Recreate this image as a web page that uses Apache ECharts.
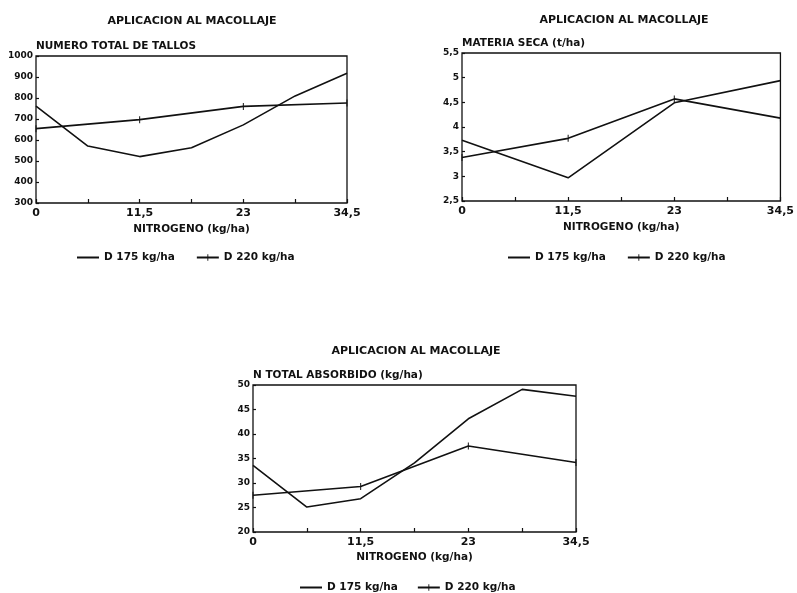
<!DOCTYPE html>
<html>
<head>
<meta charset="utf-8">
<title>Aplicacion al macollaje</title>
<script src="https://cdn.jsdelivr.net/npm/echarts@6/dist/echarts.min.js"></script>
<style>
  html, body { margin: 0; padding: 0; background: #fff; }
  #chart { width: 797px; height: 593px; }
</style>
</head>
<body>
<div id="chart"></div>
<script>
// Nitrogen levels (kg/ha): fitted curve points and applied doses
const nitrogenFine = [0, 5.75, 11.5, 17.25, 23, 28.75, 34.5];
const nitrogenDoses = [0, 11.5, 23, 34.5];
const xTickLabels = ['0', '11,5', '23', '34,5'];

const seriesNames = ['D 175 kg/ha', 'D 220 kg/ha'];

// Numero total de tallos
const tallosD175 = [761, 571, 521, 563, 672, 810, 918];
const tallosD220 = [654, 697, 760, 776];

// Materia seca (t/ha)
const materiaD175 = [3.73, 2.97, 4.49, 4.94];
const materiaD220 = [3.38, 3.77, 4.57, 4.18];

// N total absorbido (kg/ha)
const nAbsD175 = [33.6, 25.1, 26.8, 34.1, 43.1, 49.1, 47.7];
const nAbsD220 = [27.5, 29.3, 37.55, 34.2];

const chartTitle = 'APLICACION AL MACOLLAJE';
const xAxisTitle = 'NITROGENO (kg/ha)';
const yTitles = ['NUMERO TOTAL DE TALLOS', 'MATERIA SECA (t/ha)', 'N TOTAL ABSORBIDO (kg/ha)'];

const INK = '#111';
const FONT = 'DejaVu Sans';

function pairs(xs, ys) { return ys.map((y, i) => [xs[i], y]); }

// thin vertical tick; the corner specks keep the bounding box square
const tickSymbol = 'path://M0,0h0.01v0.01h-0.01z M4.3,0h1.4v10h-1.4z M9.99,9.99h0.01v0.01h-0.01z';
const blankSymbol = 'path://M0,0h0.01v0.01h-0.01z M9.99,9.99h0.01v0.01h-0.01z';

const grids = [
  { left: 36, top: 56, width: 311, height: 147 },
  { left: 462, top: 53, width: 322, height: 148 },
  { left: 253, top: 385, width: 323, height: 147 }
];
const yRanges = [
  { min: 300, max: 1000, interval: 100 },
  { min: 2.5, max: 5.5, interval: 0.5 },
  { min: 20, max: 50, interval: 5 }
];
const xNameGaps = [21, 21, 20];
const legendPos = [
  { left: 76, top: 252, gap: 21 },
  { left: 507, top: 252, gap: 21 },
  { left: 299, top: 582, gap: 19 }
];
const titlePos = [[192, 21], [624, 20], [416, 351]];

const option = {
  animation: false,
  backgroundColor: '#fff',
  grid: grids.map(g => Object.assign({
    show: true, borderColor: INK, borderWidth: 1.3, backgroundColor: 'transparent'
  }, g)),
  xAxis: grids.map((g, i) => ({
    type: 'value', gridIndex: i, min: 0, max: 34.5, interval: 11.5,
    name: xAxisTitle, nameLocation: 'middle', nameGap: xNameGaps[i],
    nameTextStyle: { fontFamily: FONT, fontWeight: 'bold', fontSize: 10.5, color: INK },
    axisLine: { show: false },
    axisTick: { show: true, inside: true, length: 4, lineStyle: { color: INK, width: 1.2 } },
    minorTick: { show: true, splitNumber: 2, length: 4, lineStyle: { color: INK, width: 1.2 } },
    splitLine: { show: false },
    axisLabel: {
      margin: 5, fontFamily: FONT, fontWeight: 'bold', fontSize: 11, color: INK,
      formatter: v => xTickLabels[Math.round(v / 11.5)]
    }
  })),
  yAxis: grids.map((g, i) => Object.assign({
    type: 'value', gridIndex: i,
    name: yTitles[i], nameLocation: 'end', nameGap: 8,
    nameTextStyle: { fontFamily: FONT, fontWeight: 'bold', fontSize: 10.5, color: INK, align: 'left', verticalAlign: 'middle' },
    axisLine: { show: false },
    axisTick: { show: true, inside: true, length: 3, lineStyle: { color: INK, width: 1.2 } },
    splitLine: { show: false },
    axisLabel: {
      margin: 3, fontFamily: FONT, fontWeight: 'bold', fontSize: 9, color: INK,
      formatter: v => String(+v.toFixed(2)).replace('.', ',')
    }
  }, yRanges[i])),
  graphic: titlePos.map(p => ({
    type: 'text', x: p[0], y: p[1],
    style: {
      text: chartTitle, textAlign: 'center', textVerticalAlign: 'middle',
      fontFamily: FONT, fontWeight: 'bold', fontSize: 11, fill: INK
    }
  })),
  legend: legendPos.map(p => ({
    data: seriesNames, left: p.left, top: p.top, padding: 0,
    itemWidth: 22, itemHeight: 8, itemGap: p.gap, selectedMode: false,
    itemStyle: { borderWidth: 0 },
    textStyle: { fontFamily: FONT, fontWeight: 'bold', fontSize: 10.5, color: INK }
  })),
  series: []
};

const panels = [
  [pairs(nitrogenFine, tallosD175), pairs(nitrogenDoses, tallosD220)],
  [pairs(nitrogenDoses, materiaD175), pairs(nitrogenDoses, materiaD220)],
  [pairs(nitrogenFine, nAbsD175), pairs(nitrogenDoses, nAbsD220)]
];
panels.forEach((panel, i) => {
  option.series.push({
    name: seriesNames[0], type: 'line', xAxisIndex: i, yAxisIndex: i,
    data: panel[0], symbol: blankSymbol, showSymbol: false, symbolSize: 7,
    color: INK, lineStyle: { color: INK, width: 1.6 },
    itemStyle: { color: INK, borderWidth: 0 }, emphasis: { disabled: true }
  });
  option.series.push({
    name: seriesNames[1], type: 'line', xAxisIndex: i, yAxisIndex: i,
    data: panel[1], symbol: tickSymbol, showSymbol: true, symbolSize: 7,
    color: INK, lineStyle: { color: INK, width: 1.6 },
    itemStyle: { color: INK, borderWidth: 0 }, emphasis: { disabled: true }
  });
});

const chart = echarts.init(document.getElementById('chart'), null, { renderer: 'canvas' });
chart.setOption(option);
</script>
</body>
</html>
